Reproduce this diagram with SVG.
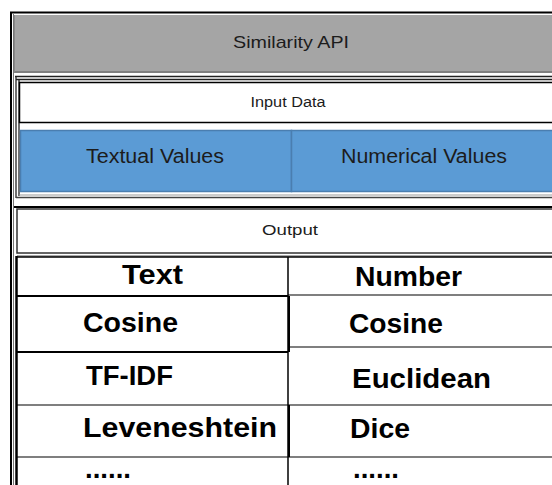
<svg xmlns="http://www.w3.org/2000/svg" width="552" height="485" viewBox="0 0 552 485">
<style>
.s{font-family:"Liberation Sans",Arial,sans-serif;fill:#1c1c1c}
.b{font-family:"Liberation Sans",Arial,sans-serif;font-weight:bold;font-size:27px;fill:#000}
.ln{stroke:#000;fill:none}
</style>
<rect width="552" height="485" fill="#fff"/>
<g id="frame">
<line class="ln" x1="10" y1="12.5" x2="552" y2="12.5" stroke-width="2"/>
<line class="ln" x1="11" y1="12" x2="11" y2="485" stroke-width="2"/>
<line x1="13.5" y1="14" x2="13.5" y2="485" stroke="#777" stroke-width="1"/>
</g>
<g id="title">
<rect x="14" y="15" width="538" height="58" fill="#a5a5a5"/>
<line x1="14" y1="72" x2="552" y2="72" stroke="#808080" stroke-width="2"/>
<line x1="14.5" y1="15" x2="14.5" y2="73" stroke="#8a8a8a" stroke-width="1"/>
<text class="s" x="291" y="48" font-size="17" text-anchor="middle" textLength="116" lengthAdjust="spacingAndGlyphs">Similarity API</text>
</g>
<g id="input-frame">
<line x1="15" y1="76.5" x2="552" y2="76.5" stroke="#222" stroke-width="1.3"/>
<line x1="16" y1="79.5" x2="552" y2="79.5" stroke="#222" stroke-width="1.3"/>
<line x1="16" y1="76" x2="16" y2="198" stroke="#222" stroke-width="1.3"/>
<line x1="19" y1="80" x2="19" y2="196" stroke="#222" stroke-width="1.3"/>
<line x1="16" y1="197.5" x2="552" y2="197.5" stroke="#444" stroke-width="1.3"/>
<line x1="19" y1="195" x2="552" y2="195" stroke="#999" stroke-width="1"/>
</g>
<g id="input-data">
<rect x="19.5" y="82.5" width="540" height="40" fill="#fff" stroke="#000" stroke-width="1.5"/>
<text class="s" x="288" y="107" font-size="14" text-anchor="middle" textLength="75" lengthAdjust="spacingAndGlyphs">Input Data</text>
</g>
<g id="textual-values">
<rect x="20.5" y="130.5" width="271" height="61" fill="#5b9bd5" stroke="#4a7eb0" stroke-width="1.5"/>
<text class="s" x="155" y="163" font-size="20" text-anchor="middle" textLength="138" lengthAdjust="spacingAndGlyphs">Textual Values</text>
</g>
<g id="numerical-values">
<rect x="291.5" y="130.5" width="270" height="61" fill="#5b9bd5" stroke="#4a7eb0" stroke-width="1.5"/>
<text class="s" x="424" y="163" font-size="20" text-anchor="middle" textLength="166" lengthAdjust="spacingAndGlyphs">Numerical Values</text>
</g>
<g id="output">
<line x1="14" y1="207" x2="552" y2="207" stroke="#000" stroke-width="2"/>
<rect x="17" y="209" width="545" height="44" fill="#fff" stroke="#333" stroke-width="1.5"/>
<line x1="17" y1="256" x2="552" y2="256" stroke="#555" stroke-width="1"/>
<text class="s" x="290" y="235" font-size="15" text-anchor="middle" textLength="56" lengthAdjust="spacingAndGlyphs">Output</text>
</g>
<g id="table">
<line class="ln" x1="16" y1="257" x2="552" y2="257" stroke-width="1.5"/>
<line class="ln" x1="16.5" y1="256" x2="16.5" y2="485" stroke-width="2.5"/>
<line class="ln" x1="288" y1="257" x2="288" y2="485" stroke-width="1.5"/>
<line class="ln" x1="16" y1="296" x2="288" y2="296" stroke-width="2"/>
<line class="ln" x1="288" y1="295" x2="552" y2="295" stroke-width="1.2" stroke="#333"/>
<line class="ln" x1="289" y1="296" x2="289" y2="352" stroke-width="2"/>
<line class="ln" x1="16" y1="352" x2="288" y2="352" stroke-width="2"/>
<line class="ln" x1="288" y1="347" x2="552" y2="347" stroke-width="1.2" stroke="#333"/>
<line class="ln" x1="16" y1="405" x2="552" y2="405" stroke-width="1.2" stroke="#333"/>
<line class="ln" x1="289" y1="405" x2="289" y2="457" stroke-width="2"/>
<line class="ln" x1="16" y1="457" x2="552" y2="457" stroke-width="1.2" stroke="#333"/>
</g>
<g id="cells">
<text class="b" x="122" y="284" textLength="61" lengthAdjust="spacingAndGlyphs">Text</text>
<text class="b" x="355" y="286" textLength="107" lengthAdjust="spacingAndGlyphs">Number</text>
<text class="b" x="83" y="332" textLength="95" lengthAdjust="spacingAndGlyphs">Cosine</text>
<text class="b" x="349" y="333" textLength="94" lengthAdjust="spacingAndGlyphs">Cosine</text>
<text class="b" x="86" y="385" textLength="87" lengthAdjust="spacingAndGlyphs">TF-IDF</text>
<text class="b" x="352" y="388" textLength="139" lengthAdjust="spacingAndGlyphs">Euclidean</text>
<text class="b" x="83" y="437" textLength="194" lengthAdjust="spacingAndGlyphs">Leveneshtein</text>
<text class="b" x="350" y="438" textLength="60" lengthAdjust="spacingAndGlyphs">Dice</text>
<text class="b" x="85" y="478" textLength="46" lengthAdjust="spacingAndGlyphs">......</text>
<text class="b" x="353" y="478" textLength="46" lengthAdjust="spacingAndGlyphs">......</text>
</g>
</svg>
